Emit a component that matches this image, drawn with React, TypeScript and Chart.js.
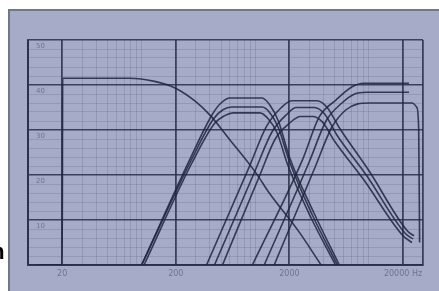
import React, { useEffect, useRef } from 'react';
import { Chart, registerables } from 'chart.js';

Chart.register(...registerables);

// Frequency axis (Hz, logarithmic) and level axis
const freqTicks = [10, 20, 30, 40, 50, 60, 70, 80, 90, 100, 200, 300, 400, 500, 600, 700, 800, 900, 1000, 2000, 3000, 4000, 5000, 6000, 7000, 8000, 9000, 10000, 20000, 30000];
const majorFreqs = [20, 200, 2000, 20000];
const freqLabels = ['20', '200', '2000', '20000 Hz'];
const levelMajors = [10, 20, 30, 40, 50];

// Low band
const lowFreq = [12, 20, 20.2, 78, 130, 195, 300, 400, 600, 1000, 1330, 2440, 3800];
const lowLevel = [0, 0, 41.5, 41.5, 40.8, 39.4, 36.3, 33.3, 27.8, 20.7, 16, 7.3, 0];

// Mid band (three settings)
const midFreqA = [100, 264, 420, 500, 600, 1150, 1350, 1600, 2000, 3300, 5500];
const midLevelA = [0, 23.3, 33.5, 36, 37.1, 37.1, 35.5, 32, 24, 11.5, 0];
const midFreqB = [100, 270, 430, 520, 620, 1150, 1350, 1600, 2000, 3200, 5300];
const midLevelB = [0, 23, 32.5, 34.5, 35.1, 35.1, 33.8, 30.5, 23, 11, 0];
const midFreqC = [105, 275, 440, 540, 640, 1100, 1300, 1550, 1950, 3100, 5100];
const midLevelC = [0, 22.5, 31.5, 33.2, 33.8, 33.8, 32.5, 29.5, 22, 10.5, 0];

// Upper-mid band (three settings)
const hmFreqA = [373, 900, 1250, 1700, 2100, 3500, 4300, 5500, 10000, 22000, 25000];
const hmLevelA = [0, 22.2, 30.7, 35, 36.5, 36.5, 35, 30.5, 21, 7.5, 6.5];
const hmFreqB = [438, 1000, 1400, 1900, 2300, 3300, 4100, 5200, 9500, 21000, 24500];
const hmLevelB = [0, 21, 29.5, 33.5, 35, 35, 33.5, 29, 20, 7, 5.8];
const hmFreqC = [515, 1100, 1500, 2000, 2500, 3200, 3900, 5000, 9000, 20000, 24000];
const hmLevelC = [0, 20, 28, 31.5, 33, 33, 31.8, 27.5, 19, 6.5, 5];

// High band (three settings)
const hiFreqA = [945, 2600, 3660, 5160, 7130, 9000, 22600];
const hiLevelA = [0, 23.3, 32.9, 36.7, 39.6, 40.4, 40.4];
const hiFreqB = [1200, 3000, 4200, 5800, 7500, 9500, 22600];
const hiLevelB = [0, 23, 32, 36, 38, 38.4, 38.4];
const hiFreqC = [1470, 3400, 4700, 6300, 8000, 10000, 24000, 26500, 27500, 28000];
const hiLevelC = [0, 22, 30.5, 34.5, 35.8, 36, 36, 35, 30, 5];

const seriesList = [
  [lowFreq, lowLevel],
  [midFreqA, midLevelA],
  [midFreqB, midLevelB],
  [midFreqC, midLevelC],
  [hmFreqA, hmLevelA],
  [hmFreqB, hmLevelB],
  [hmFreqC, hmLevelC],
  [hiFreqA, hiLevelA],
  [hiFreqB, hiLevelB],
  [hiFreqC, hiLevelC],
];

const LINE = 'rgba(30,36,62,0.85)';
const MAJOR = 'rgba(40,46,72,0.85)';
const MINOR = 'rgba(70,78,110,0.2)';

export default function App() {
  const ref = useRef<HTMLCanvasElement | null>(null);

  useEffect(() => {
    if (!ref.current) return;
    const chart = new Chart(ref.current, {
      type: 'line',
      data: {
        datasets: seriesList.map(([f, l], i) => ({
          label: 'band' + i,
          data: f.map((x, j) => ({ x, y: l[j] })),
          borderColor: LINE,
          borderWidth: 1.6,
          pointRadius: 0,
          cubicInterpolationMode: 'monotone' as const,
          fill: false,
        })),
      },
      options: {
        animation: false,
        responsive: false,
        events: [],
        layout: { padding: { left: 28, top: 40, right: 16, bottom: 0 } },
        plugins: { legend: { display: false }, tooltip: { enabled: false } },
        scales: {
          x: {
            type: 'logarithmic',
            min: 10,
            max: 30000,
            afterBuildTicks: (scale: any) => {
              scale.ticks = freqTicks.map((v) => ({ value: v }));
            },
            afterFit: (scale: any) => {
              scale.height = 26;
            },
            ticks: {
              autoSkip: false,
              maxRotation: 0,
              padding: 4,
              color: '#6c7492',
              font: { size: 8, family: 'DejaVu Sans' },
              callback: (v: any) => {
                const k = majorFreqs.indexOf(Number(v));
                return k >= 0 ? freqLabels[k] : '';
              },
            },
            grid: {
              drawTicks: false,
              color: (ctx: any) => {
                const v = ctx.tick && ctx.tick.value;
                return majorFreqs.includes(v) || v === 10 || v === 30000 ? MAJOR : MINOR;
              },
              lineWidth: (ctx: any) => {
                const v = ctx.tick && ctx.tick.value;
                return majorFreqs.includes(v) || v === 10 || v === 30000 ? 1.8 : 1;
              },
            },
            border: { color: MAJOR, width: 2 },
          },
          y: {
            type: 'linear',
            min: 0,
            max: 50,
            afterFit: (scale: any) => {
              scale.width = 0;
            },
            ticks: {
              stepSize: 2,
              autoSkip: false,
              mirror: true,
              padding: 8,
              labelOffset: 6,
              color: '#6c7492',
              font: { size: 7, family: 'DejaVu Sans' },
              callback: (v: any) => (levelMajors.includes(Number(v)) ? String(v) : ''),
            },
            grid: {
              drawTicks: false,
              color: (ctx: any) => (ctx.tick && ctx.tick.value % 10 === 0 ? MAJOR : MINOR),
              lineWidth: (ctx: any) => (ctx.tick && ctx.tick.value % 10 === 0 ? 1.6 : 1),
            },
            border: { color: MAJOR, width: 2 },
          },
        },
      },
    });
    return () => chart.destroy();
  }, []);

  return (
    <div style={{ position: 'fixed', left: 0, top: 0, width: 439, height: 291, background: '#ffffff', overflow: 'hidden' }}>
      <div
        style={{
          position: 'absolute',
          left: 8,
          top: 9,
          width: 431,
          height: 282,
          background: '#a6acc8',
          borderLeft: '2px solid #6f7689',
          borderTop: '2px solid #6f7b82',
          boxSizing: 'border-box',
        }}
      />
      <canvas ref={ref} width={439} height={291} style={{ position: 'absolute', left: 0, top: 0, width: 439, height: 291 }} />
      <span
        style={{
          position: 'absolute',
          left: -15,
          top: 241,
          fontFamily: 'Liberation Sans',
          fontWeight: 'bold',
          fontSize: 22,
          lineHeight: '22px',
          color: '#000',
        }}
      >
        m
      </span>
    </div>
  );
}
